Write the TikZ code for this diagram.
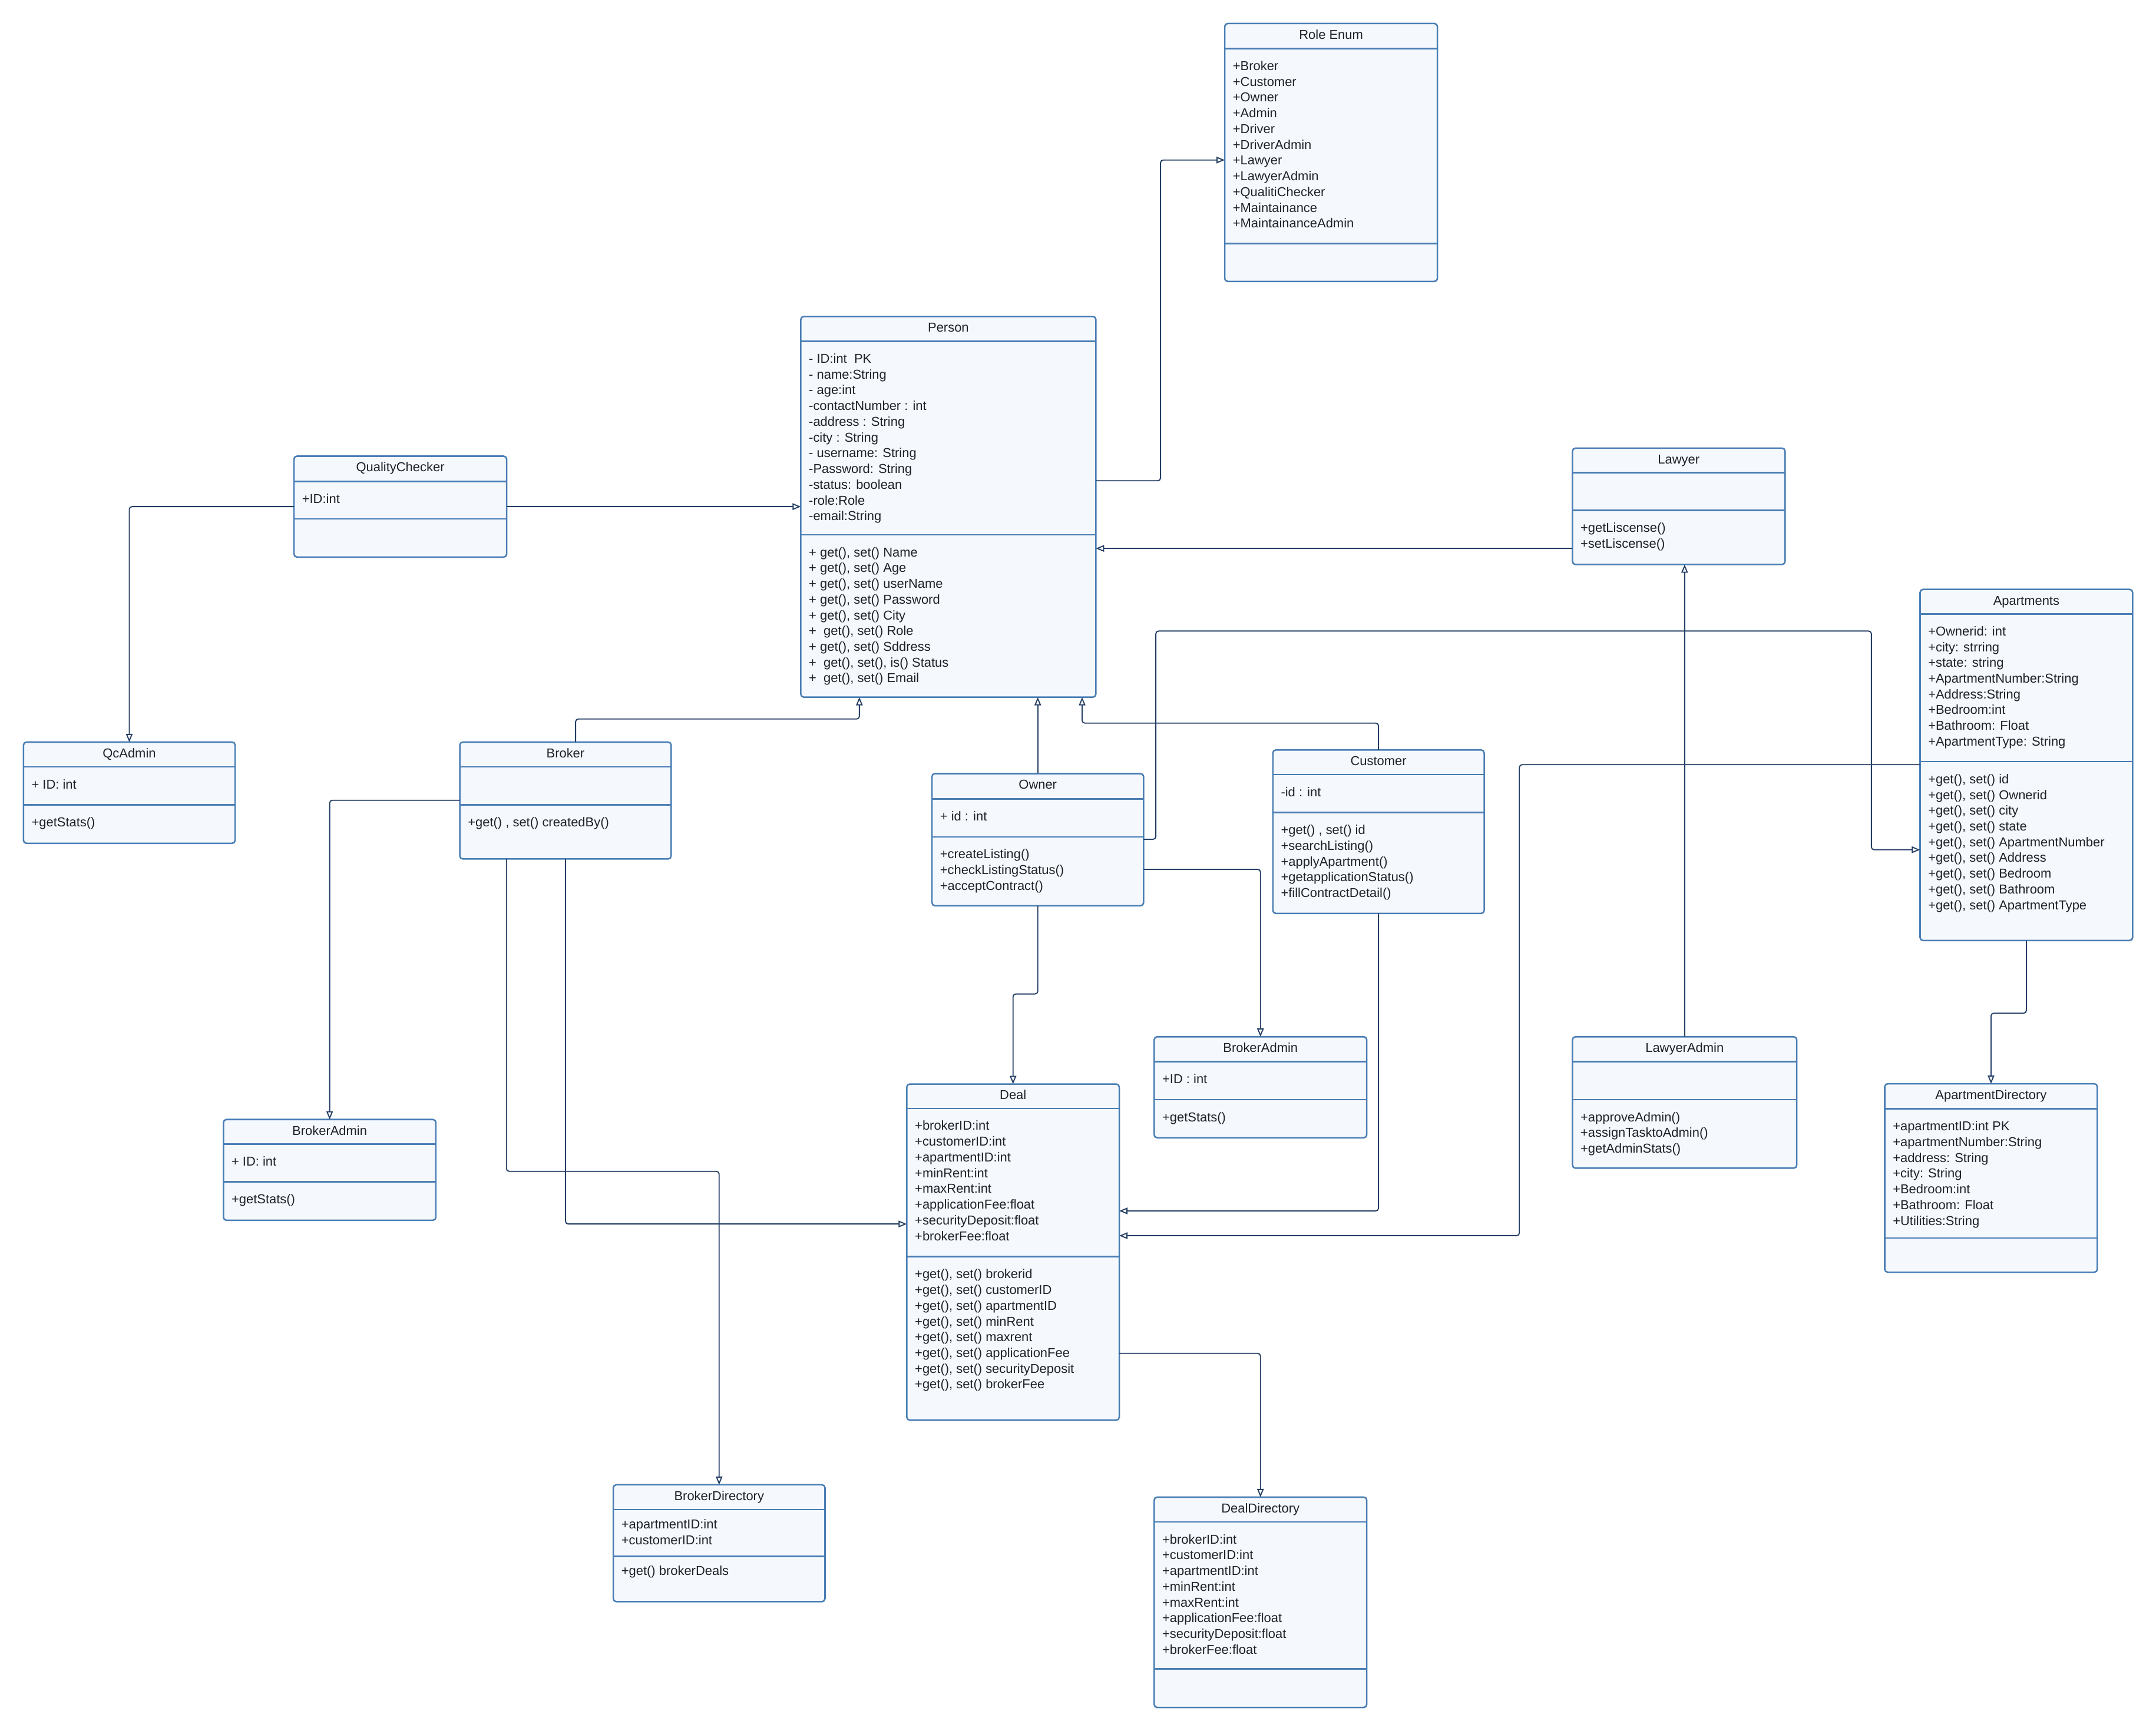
\documentclass[tikz,border=0pt]{standalone}
\usepackage{fontspec}
\setmainfont{Liberation Sans}
\usetikzlibrary{arrows.meta}

\definecolor{boxline}{RGB}{74,126,180}
\definecolor{boxfill}{RGB}{245,249,254}
\definecolor{linkcol}{RGB}{36,62,100}
\definecolor{ink}{RGB}{30,34,40}

\tikzset{
  classframe/.style={draw=boxline, fill=boxfill, line width=1.1pt, rounded corners=2.2pt, inner sep=0pt, outer sep=0pt},
  rule/.style={draw=boxline, line width=1.1pt},
  titletext/.style={text=ink, font=\fontsize{9.4}{11.45}\selectfont, inner sep=0pt},
  membertext/.style={text=ink, font=\fontsize{9.4}{11.45}\selectfont, inner sep=0pt},
  link/.style={draw=linkcol, line width=0.8pt, rounded corners=2pt, -{Triangle[open, length=6pt, width=4.8pt]}},
}

% class frame: name, left, top, right, bottom, first divider, second divider
\newcommand\umlclass[7]{%
  \node[classframe, minimum width={#4-#2}, minimum height={#5-#3}, anchor=north west] (#1) at (#2,#3) {};
  \draw[rule] (#2,#6) -- (#4,#6);
  \draw[rule] (#2,#7) -- (#4,#7);
}
% class name centred in the header
\newcommand\umltitle[2]{%
  \node[titletext, anchor=base] (#1-title) at ([yshift=-11.3pt]#1.north) {#2};
}
% compartment text: node name, box left, divider above, lines
\newcommand\umltext[4]{%
  \node[membertext, anchor=base west] (#1) at (#2+5.7, #3+15.9)
    {\begin{tabular}[t]{@{}l@{}}#4\end{tabular}};
}

\begin{document}
\begin{tikzpicture}[x=1pt, y=-1pt]
\fill[white] (0,0) rectangle (1568,1259);
\useasboundingbox (0,0) rectangle (1568,1259);

% ---------- classes ----------
\umlclass{roleenum}{890.7}{17.1}{1045.4}{204.7}{35.3}{177.1}
\umltitle{roleenum}{Role Enum}
\umltext{roleenum-attr}{890.7}{35.3}{+Broker\\+Customer\\+Owner\\+Admin\\+Driver\\+DriverAdmin\\+Lawyer\\+LawyerAdmin\\+QualitiChecker\\+Maintainance\\+MaintainanceAdmin}

\umlclass{person}{582.4}{230.2}{797}{507.1}{248.2}{389}
\umltitle{person}{Person}
\umltext{person-attr}{582.4}{248.2}{- ID:int~~PK\\- name:String\\- age:int\\-contactNumber : int\\-address : String\\-city : String\\- username: String\\-Password: String\\-status: boolean\\-role:Role\\-email:String}
\umltext{person-ops}{582.4}{389}{+ get(), set() Name\\+ get(), set() Age\\+ get(), set() userName\\+ get(), set() Password\\+ get(), set() City\\+~~get(), set() Role\\+ get(), set() Sddress\\+~~get(), set(), is() Status\\+~~get(), set() Email}

\umlclass{qc}{213.8}{331.8}{368.5}{405.2}{350.2}{377.5}
\umltitle{qc}{QualityChecker}
\umltext{qc-attr}{213.8}{350.2}{+ID:int}

\umlclass{qcadmin}{17.05}{539.8}{171}{613.4}{557.8}{585.5}
\umltitle{qcadmin}{QcAdmin}
\umltext{qcadmin-attr}{17.05}{557.8}{+ ID: int}
\umltext{qcadmin-ops}{17.05}{585.5}{+getStats()}

\umlclass{broker}{334.4}{539.8}{488.1}{624.8}{557.8}{585.5}
\umltitle{broker}{Broker}
\umltext{broker-ops}{334.4}{585.5}{+get() , set() createdBy()}

\umlclass{owner}{677.8}{562.7}{831.7}{658.8}{581.1}{608.7}
\umltitle{owner}{Owner}
\umltext{owner-attr}{677.8}{581.1}{+ id : int}
\umltext{owner-ops}{677.8}{608.7}{+createListing()\\+checkListingStatus()\\+acceptContract()}

\umlclass{customer}{925.7}{545.5}{1079.4}{664.4}{563.4}{591}
\umltitle{customer}{Customer}
\umltext{customer-attr}{925.7}{563.4}{-id : int}
\umltext{customer-ops}{925.7}{591}{+get() , set() id\\+searchListing()\\+applyApartment()\\+getapplicationStatus()\\+fillContractDetail()}

\umlclass{lawyer}{1143.6}{326}{1298.2}{410.6}{343.7}{371.3}
\umltitle{lawyer}{Lawyer}
\umltext{lawyer-ops}{1143.6}{371.3}{+getLiscense()\\+setLiscense()}

\umlclass{apartments}{1396.4}{428.7}{1551}{684.1}{446.5}{554}
\umltitle{apartments}{Apartments}
\umltext{apartments-attr}{1396.4}{446.5}{+Ownerid: int\\+city: strring\\+state: string\\+ApartmentNumber:String\\+Address:String\\+Bedroom:int\\+Bathroom: Float\\+ApartmentType: String}
\umltext{apartments-ops}{1396.4}{554}{+get(), set() id\\+get(), set() Ownerid\\+get(), set() city\\+get(), set() state\\+get(), set() ApartmentNumber\\+get(), set() Address\\+get(), set() Bedroom\\+get(), set() Bathroom\\+get(), set() ApartmentType}

\umlclass{brokeradminA}{162.5}{814.3}{317}{887.6}{832.2}{859.7}
\umltitle{brokeradminA}{BrokerAdmin}
\umltext{brokeradminA-attr}{162.5}{832.2}{+ ID: int}
\umltext{brokeradminA-ops}{162.5}{859.7}{+getStats()}

\umlclass{deal}{659.5}{788.5}{814}{1033}{806.2}{914.1}
\umltitle{deal}{Deal}
\umltext{deal-attr}{659.5}{806.2}{+brokerID:int\\+customerID:int\\+apartmentID:int\\+minRent:int\\+maxRent:int\\+applicationFee:float\\+securityDeposit:float\\+brokerFee:float}
\umltext{deal-ops}{659.5}{914.1}{+get(), set() brokerid\\+get(), set() customerID\\+get(), set() apartmentID\\+get(), set() minRent\\+get(), set() maxrent\\+get(), set() applicationFee\\+get(), set() securityDeposit\\+get(), set() brokerFee}

\umlclass{brokeradminB}{839.4}{754.1}{994}{827.6}{772.2}{799.8}
\umltitle{brokeradminB}{BrokerAdmin}
\umltext{brokeradminB-attr}{839.4}{772.2}{+ID : int}
\umltext{brokeradminB-ops}{839.4}{799.8}{+getStats()}

\umlclass{lawyeradmin}{1143.6}{754.1}{1306.7}{849.7}{772.2}{799.8}
\umltitle{lawyeradmin}{LawyerAdmin}
\umltext{lawyeradmin-ops}{1143.6}{799.8}{+approveAdmin()\\+assignTasktoAdmin()\\+getAdminStats()}

\umlclass{aptdir}{1370.7}{788.3}{1525.3}{925.4}{806.5}{900.5}
\umltitle{aptdir}{ApartmentDirectory}
\umltext{aptdir-attr}{1370.7}{806.5}{+apartmentID:int PK\\+apartmentNumber:String\\+address: String\\+city: String\\+Bedroom:int\\+Bathroom: Float\\+Utilities:String}

\umlclass{brokerdir}{446}{1080}{600}{1165}{1098}{1132}
\umltitle{brokerdir}{BrokerDirectory}
\umltext{brokerdir-attr}{446}{1096}{+apartmentID:int\\+customerID:int}
\umltext{brokerdir-ops}{446}{1130}{+get() brokerDeals}

\umlclass{dealdir}{839.4}{1089}{994}{1242}{1107}{1214}
\umltitle{dealdir}{DealDirectory}
\umltext{dealdir-attr}{839.4}{1107}{+brokerID:int\\+customerID:int\\+apartmentID:int\\+minRent:int\\+maxRent:int\\+applicationFee:float\\+securityDeposit:float\\+brokerFee:float}

% ---------- connectors ----------
\draw[link] (person.east |- 0,349.7) -- ++(47,0) |- (roleenum.west |- 0,116.4);
\draw[link] (qc.east) -- (qc.east -| person.west);
\draw[link] (qc.west) -| (qcadmin.north);
\draw[link] (lawyer.west |- 0,398.9) -- (person.east |- 0,398.9);
\draw[link] (broker.north -| 418.6,0) |- (625,523) -- (person.south -| 625,0);
\draw[link] (owner.north) -- (owner.north |- person.south);
\draw[link] (customer.north) |- (787,526) -- (person.south -| 787,0);
\draw[link] (broker.west |- 0,582.1) -| (brokeradminA.north);
\draw[link] (broker.south -| 368.3,0) -- (368.3,852) -| (brokerdir.north);
\draw[link] (broker.south) |- (deal.west |- 0,890.3);
\draw[link] (owner.east |- 0,610.5) -| (840.6,459) -| (1361,618.1) -- (apartments.west |- 0,618.1);
\draw[link] (owner.east |- 0,632.3) -| (brokeradminB.north);
\draw[link] (owner.south) -- (owner.south |- 0,723) -| (deal.north);
\draw[link] (customer.south) |- (deal.east |- 0,880.8);
\draw[link] (apartments.west |- 0,556.2) -| (1105,898.8) -- (deal.east |- 0,898.8);
\draw[link] (lawyeradmin.north) -- (lawyeradmin.north |- lawyer.south);
\draw[link] (apartments.south) -- (apartments.south |- 0,737) -| (aptdir.north);
\draw[link] (deal.east |- 0,984.4) -| (dealdir.north);
\end{tikzpicture}
\end{document}
